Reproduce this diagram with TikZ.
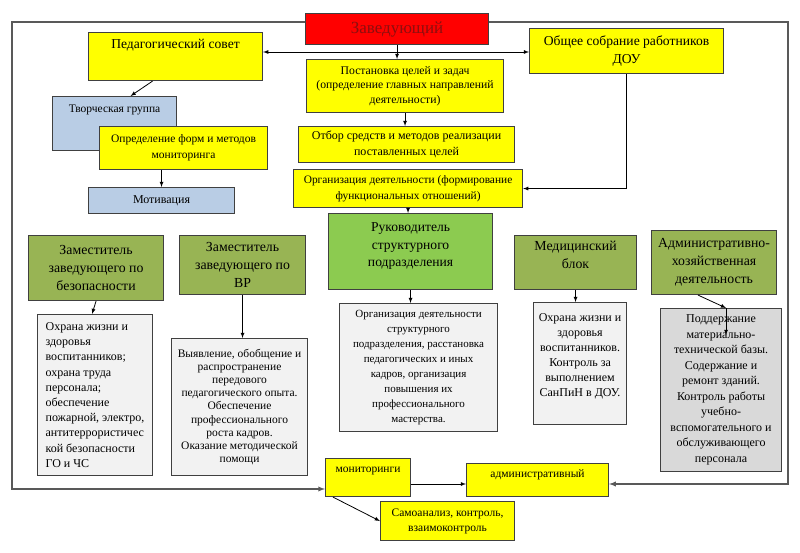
\documentclass[tikz,border=0pt]{standalone}
\usepackage{fontspec}
\setmainfont{Liberation Serif}
\usepackage{tikz}
\usetikzlibrary{positioning,arrows}

\definecolor{chiefred}{HTML}{FF0000}
\definecolor{chieftext}{RGB}{140,15,15}
\definecolor{stepyellow}{HTML}{FFFF00}
\definecolor{groupblue}{HTML}{B9CDE5}
\definecolor{headolive}{HTML}{98B454}
\definecolor{headgreen}{HTML}{8CCB50}
\definecolor{tasklight}{HTML}{F2F2F2}
\definecolor{taskdark}{HTML}{D9D9D9}

\tikzset{
  box/.style={draw=black!75, line width=1.1pt, anchor=north west, align=center, inner sep=2pt, font=\fontsize{11.5}{16}\selectfont},
  sz/.style 2 args={minimum width=#1pt, minimum height=#2pt},
  yel/.style={fill=stepyellow},
  blu/.style={fill=groupblue},
  chief/.style={box, fill=chiefred, text=chieftext, font=\fontsize{17}{20}\selectfont},
  head/.style={box, fill=headolive, font=\fontsize{13.8}{17.8}\selectfont},
  task/.style={box, fill=tasklight, font=\fontsize{12}{15}\selectfont},
  link/.style={draw=black, line width=0.8pt},
  frame/.style={draw=black!65, line width=1.3pt}
}

\begin{document}
\begin{tikzpicture}[x=1pt, y=-1pt, >=latex]
	\useasboundingbox[fill=white] (0,0) rectangle (800,553);

	\coordinate(tl) at (12,22);
	\coordinate(tr) at (788,22);
	\coordinate(bl) at (12,489);
	\coordinate(br) at (788,484);
	\coordinate(hl) at (400,52);

	\node(zav)[chief, sz={183}{31}] at (305,13) {Заведующий};
	\node(ped)[box, yel, sz={174}{48}, text height=14pt, text depth=30pt, font=\fontsize{13.6}{16}\selectfont] at (88,32) {Педагогический совет};
	\node(ob)[box, yel, sz={194}{45}, font=\fontsize{13.6}{17.5}\selectfont] at (529,28) {Общее собрание работников\\ДОУ};
	\node(post)[box, yel, sz={197}{53}, font=\fontsize{11.7}{14.7}\selectfont] at (306,59) {Постановка целей и задач\\(определение главных направлений\\деятельности)};
	\node(otb)[box, yel, sz={216}{36}, font=\fontsize{12}{16}\selectfont] at (298,126) {Отбор средств и методов реализации\\поставленных целей};
	\node(orgd)[box, yel, sz={229}{38}, font=\fontsize{11.4}{16}\selectfont] at (293,169) {Организация деятельности (формирование\\функциональных отношений)};
	\node(tvor)[box, blu, sz={124}{54}, text height=13.5pt, text depth=36.5pt] at (52,96) {Творческая группа};
	\node(opr)[box, yel, sz={168}{43}] at (99,126) {Определение форм и методов\\мониторинга};
	\node(mot)[box, blu, sz={146}{26}, font=\fontsize{12}{14}\selectfont] at (88,187) {Мотивация};

	\node(zb)[head, sz={135}{65}] at (28,235) {Заместитель\\заведующего по\\безопасности};
	\node(zvr)[head, sz={126}{59}] at (179,235) {Заместитель\\заведующего по\\ВР};
	\node(ruk)[head, fill=headgreen, sz={164}{76}, text depth=14pt, font=\fontsize{13.6}{17.5}\selectfont] at (328,213) {Руководитель\\структурного\\подразделения};
	\node(med)[head, sz={122}{54}, text depth=15pt] at (514,235) {Медицинский\\блок};
	\node(ah)[head, sz={125}{64}] at (651,230) {Административно-\\хозяйственная\\деятельность};

	\node(oh)[task, align=left, sz={115}{161}, font=\fontsize{12}{15.2}\selectfont] at (37,314) {Охрана жизни и\\здоровья\\воспитанников;\\охрана труда\\персонала;\\обеспечение\\пожарной, электро,\\антитеррористичес\\кой безопасности\\ГО и ЧС};
	\node(vyy)[task, sz={136}{137}, font=\fontsize{11.5}{13.2}\selectfont] at (171,338) {Выявление, обобщение и\\распространение\\передового\\педагогического опыта.\\Обеспечение\\профессионального\\роста кадров.\\Оказание методической\\помощи};
	\node(od)[task, sz={158}{128}, font=\fontsize{11}{15}\selectfont] at (339,303) {Организация деятельности\\структурного\\подразделения, расстановка\\педагогических и иных\\кадров, организация\\повышения их\\профессионального\\мастерства.};
	\node(ohm)[task, sz={93}{122}, text depth=17pt] at (533,302) {Охрана жизни и\\здоровья\\воспитанников.\\Контроль за\\выполнением\\СанПиН в ДОУ.};
	\node(pod)[task, fill=taskdark, sz={121}{163}, font=\fontsize{12}{15.5}\selectfont] at (660,308) {Поддержание\\материально-\\технической базы.\\Содержание и\\ремонт зданий.\\Контроль работы\\учебно-\\вспомогательного и\\обслуживающего\\персонала};

	\node(mon)[box, yel, sz={85}{38}, text height=12pt, text depth=22pt] at (325,458) {мониторинги};
	\node(adm)[box, yel, sz={142}{33}, text height=12pt, text depth=17pt] at (466,463) {административный};
	\node(sam)[box, yel, sz={134}{39}, font=\fontsize{11.5}{15}\selectfont] at (380,501) {Самоанализ, контроль,\\взаимоконтроль};

	\draw[frame,->] (zav.west |- tl) -- (tl) -- (bl) -- (mon.west |- bl);
	\draw[frame,->] (zav.east |- tr) -- (tr) -- (br) -- (adm.east |- br);

	\draw[link,<->] (ped.east |- hl) -- (ob.west |- hl);
	\path (zav.south) edge[link,->] (zav.south |- post.north);
	\path (post.south) edge[link,->] (post.south |- otb.north);
	\draw[link,->] (ob.south) |- (orgd.east);
	\path (orgd.south) edge[link,->] (orgd.south |- ruk.north);
	\path ([xshift=-23pt]ped.south) edge[link,->] ([xshift=16pt]tvor.north);
	\path (mot.north |- opr.south) edge[link,->] (mot.north);

	\path (zb.south) edge[link,->] ([xshift=-3pt]oh.north);
	\path (zvr.south) edge[link,->] (zvr.south |- vyy.north);
	\path (ruk.south) edge[link,->] (ruk.south |- od.north);
	\path (med.south) edge[link,->] (med.south |- ohm.north);
	\path ([xshift=-16pt]ah.south) edge[link,->] ([xshift=5pt]pod.north);
	\draw[link,->] ([xshift=5pt]pod.north) -- ++(0,27);

	\draw[link,->] (mon.east |- br) -- (adm.west |- br);
	\path ([xshift=8pt]mon.south west) edge[link,->] (sam.west);
\end{tikzpicture}
\end{document}
